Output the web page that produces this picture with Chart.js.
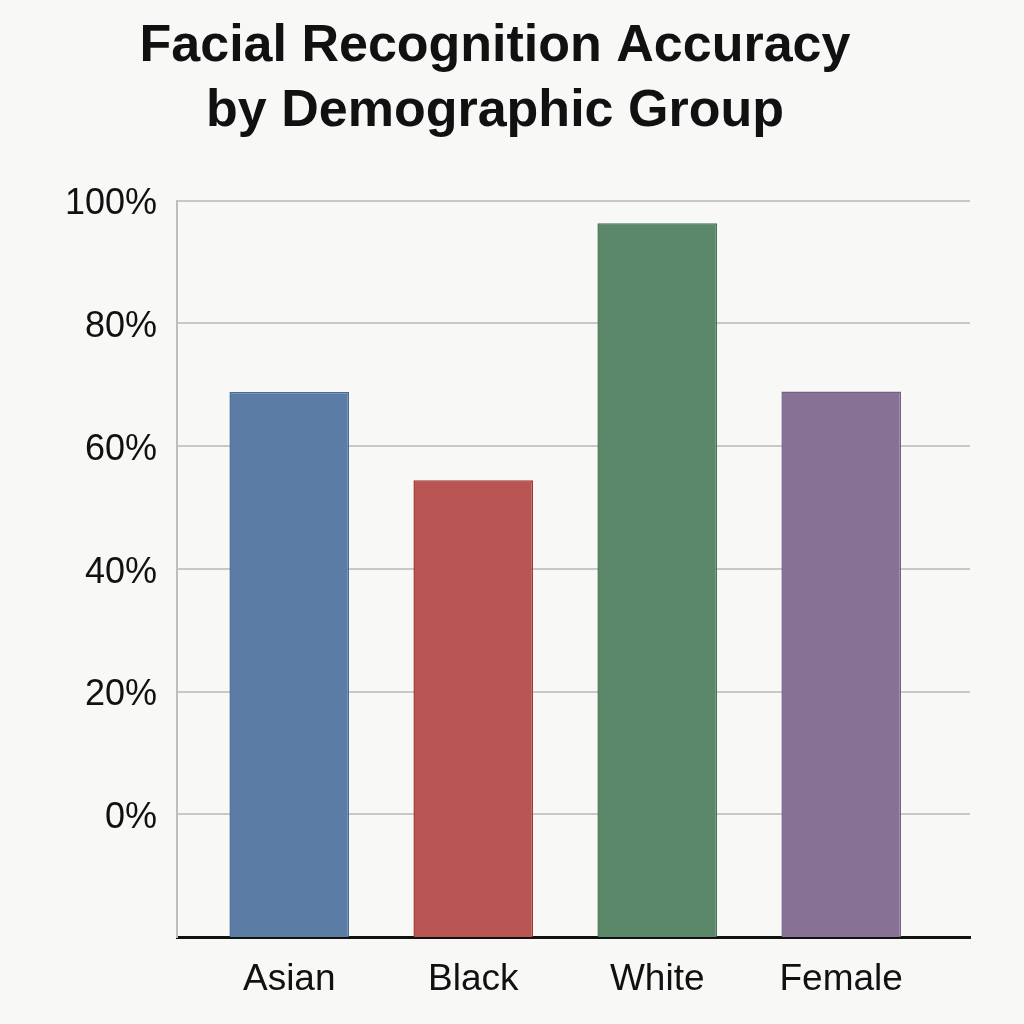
<!DOCTYPE html>
<html>
<head>
<meta charset="utf-8">
<script src="https://cdn.jsdelivr.net/npm/chart.js@4.4.1/dist/chart.umd.min.js"></script>
<style>
  html, body { margin: 0; padding: 0; background: #f8f8f6; }
  canvas { display: block; }
</style>
</head>
<body>
<canvas id="chart" width="1024" height="1024"></canvas>
<script>
// chart data
var groups = ['Asian', 'Black', 'White', 'Female'];
var accuracy = [68.8, 54.4, 96.3, 68.9];
var yTicks = [0, 20, 40, 60, 80, 100];

var fillColors = ['#5b7ca4', '#b85452', '#5a8868', '#877296'];
var edgeColors = ['#4a6b96', '#a33534', '#44714f', '#74608a'];

var ctx = document.getElementById('chart');

var points = groups.map(function (g, i) {
  return { x: i, y: accuracy[i] };
});

var myChart = new Chart(ctx, {
  type: 'bar',
  data: {
    datasets: [{
      label: 'Accuracy',
      data: points,
      base: -20, // bars rise from the bottom axis, below the 0% line
      backgroundColor: fillColors,
      borderColor: edgeColors,
      borderWidth: 1.5,
      barPercentage: 0.65,
      categoryPercentage: 1.0
    }]
  },
  options: {
    responsive: false,
    animation: false,
    devicePixelRatio: 1,
    layout: { padding: { top: 0, left: 20, right: 54, bottom: 0 } },
    plugins: {
      legend: { display: false },
      tooltip: { enabled: false },
      title: {
        display: true,
        text: ['Facial Recognition Accuracy', 'by Demographic Group'],
        color: '#111111',
        font: { family: '"Liberation Sans", Arial, sans-serif', size: 52, weight: 'bold', lineHeight: 1.25 },
        padding: { top: 14, bottom: 56.5 }
      }
    },
    scales: {
      x: {
        type: 'linear',
        offset: false,
        min: -0.61,
        max: 3.70,
        afterBuildTicks: function (scale) {
          scale.ticks = groups.map(function (g, i) { return { value: i }; });
        },
        afterFit: function (scale) { scale.height = 87; },
        grid: { display: false, drawTicks: false },
        border: { display: true, color: '#111111', width: 3 },
        ticks: {
          padding: 21,
          color: '#111111',
          maxRotation: 0,
          autoSkip: false,
          font: { family: '"Liberation Sans", Arial, sans-serif', size: 37 },
          callback: function (v) { return groups[v]; }
        }
      },
      y: {
        min: -20,
        max: 100,
        afterBuildTicks: function (scale) {
          scale.ticks = yTicks.map(function (v) { return { value: v }; });
        },
        afterFit: function (scale) { scale.width = 157; },
        grid: { color: '#c8c8c8', lineWidth: 2, drawTicks: false },
        border: { display: true, color: '#bdbdbd', width: 2 },
        ticks: {
          padding: 20,
          labelOffset: 4,
          color: '#111111',
          font: { family: '"Liberation Sans", Arial, sans-serif', size: 36 },
          callback: function (v) { return v + '%'; }
        }
      }
    }
  }
});
</script>
</body>
</html>
